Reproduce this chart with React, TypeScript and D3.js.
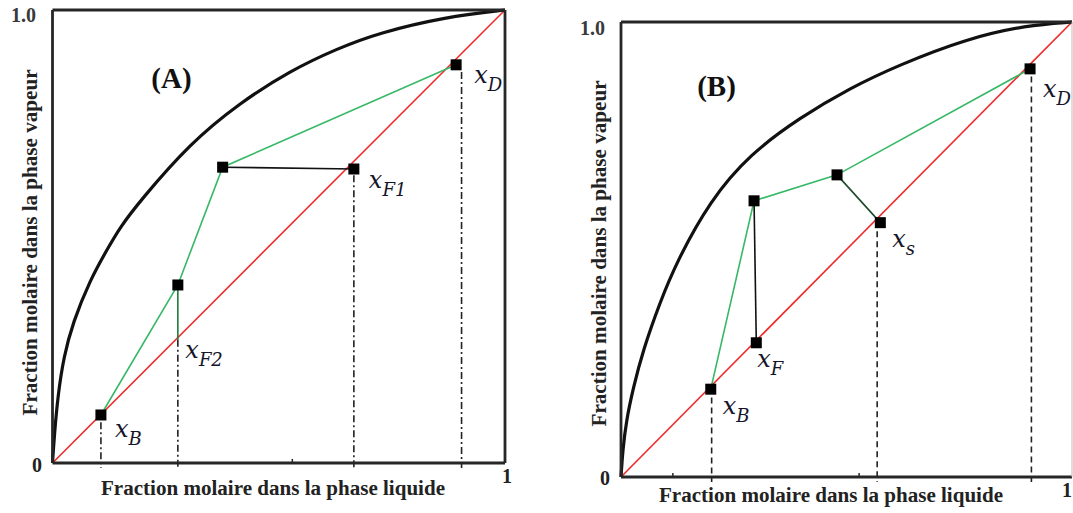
import React from "react";
import * as d3 from "d3";

type P = [number, number];

// equilibrium curves (x liquid, y vapour)
const equilibriumA: P[] = [
  [0, 0], [0.004, 0.06], [0.012, 0.15], [0.025, 0.235], [0.045, 0.31], [0.083, 0.404],
  [0.12, 0.47], [0.149, 0.52], [0.193, 0.578], [0.304, 0.706], [0.414, 0.795],
  [0.525, 0.866], [0.63, 0.915], [0.719, 0.949], [0.87, 0.985], [1, 1],
];
const equilibriumB: P[] = [
  [0, 0], [0.004, 0.06], [0.012, 0.125], [0.027, 0.195], [0.049, 0.279],
  [0.086, 0.383], [0.124, 0.474], [0.197, 0.607], [0.286, 0.71], [0.397, 0.79],
  [0.508, 0.855], [0.615, 0.905], [0.765, 0.963], [0.9, 0.993], [1, 1],
];

// panel A : two feeds
const operatingA: P[] = [[0.107, 0.106], [0.277, 0.393], [0.376, 0.653], [0.892, 0.879]];
const feedLineA2: P[] = [[0.277, 0.393], [0.277, 0.272]];
const feedLineA1: P[] = [[0.376, 0.653], [0.666, 0.649]];
const markersA: P[] = [[0.107, 0.106], [0.277, 0.393], [0.376, 0.653], [0.666, 0.649], [0.892, 0.879]];
const dropsA: P[] = [[0.107, 0.09], [0.277, 0.272], [0.666, 0.635], [0.904, 0.863]];
const labelsA = ["B", "F2", "F1", "D"];
const labelPointsA: P[] = [[0.107, 0.106], [0.277, 0.272], [0.666, 0.649], [0.892, 0.879]];
const ticksA = [0.53];

// panel B : feed + side stream
const operatingB: P[] = [[0.199, 0.193], [0.295, 0.607], [0.479, 0.664], [0.907, 0.897]];
const feedLineB: P[] = [[0.295, 0.607], [0.3, 0.295]];
const sideLineB: P[] = [[0.479, 0.664], [0.575, 0.559]];
const markersB: P[] = [[0.199, 0.193], [0.3, 0.295], [0.295, 0.607], [0.479, 0.664], [0.575, 0.559], [0.907, 0.897]];
const dropsB: P[] = [[0.201, 0.175], [0.568, 0.54], [0.91, 0.88]];
const labelsB = ["B", "F", "s", "D"];
const labelPointsB: P[] = [[0.199, 0.193], [0.3, 0.295], [0.575, 0.559], [0.907, 0.897]];
const ticksB = [0.115, 0.528];

const xTitle = "Fraction molaire dans la phase liquide";
const yTitle = "Fraction molaire dans la phase vapeur";

const serif = "'Liberation Serif', 'Times New Roman', serif";
const mathFont = "'DejaVu Serif', serif";

interface PanelProps {
  box: { l: number; r: number; t: number; b: number };
  name: string;
  nameAt: P;
  curve: P[];
  green: P[];
  darkLine: P[];
  darkColor: string;
  blackLine: P[];
  markers: P[];
  drops: P[];
  dash: string;
  labels: string[];
  labelPoints: P[];
  labelOffsets: P[];
  ticks: number[];
  thinRight: boolean;
  tickText: { one: P; zero: P; unit: P };
  xTitleAt: P;
  yTitleAt: P;
}

function Panel(p: PanelProps) {
  const x = d3.scaleLinear().domain([0, 1]).range([p.box.l, p.box.r]);
  const y = d3.scaleLinear().domain([0, 1]).range([p.box.b, p.box.t]);
  const line = d3.line<P>().x((d) => x(d[0])).y((d) => y(d[1]));
  const smooth = d3.line<P>().x((d) => x(d[0])).y((d) => y(d[1])).curve(d3.curveBasis);
  const frame = "#262626";
  const s = 11;

  return (
    <g>
      {/* operating lines */}
      <path d={line([[0, 0], [1, 1]]) || ""} stroke="#ee2b2b" strokeWidth={1.6} fill="none" />
      <path d={line(p.green) || ""} stroke="#36b866" strokeWidth={1.6} fill="none" />
      <path d={line(p.darkLine) || ""} stroke={p.darkColor} strokeWidth={1.6} fill="none" />
      <path d={line(p.blackLine) || ""} stroke="#111" strokeWidth={1.6} fill="none" />
      {p.drops.map((d, i) => (
        <line key={i} x1={x(d[0])} x2={x(d[0])} y1={y(d[1])} y2={y(0) + 5}
          stroke="#222" strokeWidth={1.6} strokeDasharray={p.dash} />
      ))}
      {/* equilibrium curve */}
      <path d={smooth(p.curve) || ""} stroke="#111" strokeWidth={3.2} fill="none" />
      {/* frame */}
      <line x1={p.box.l} x2={p.box.l} y1={p.box.t} y2={p.box.b} stroke={frame} strokeWidth={2.8} />
      <line x1={p.box.l} x2={p.box.r} y1={p.box.t} y2={p.box.t} stroke={frame} strokeWidth={2.8} />
      <line x1={p.box.l} x2={p.box.r} y1={p.box.b} y2={p.box.b} stroke={frame} strokeWidth={2.8} />
      <line x1={p.box.r} x2={p.box.r} y1={p.box.t} y2={p.box.b}
        stroke={p.thinRight ? "#bbb" : frame} strokeWidth={p.thinRight ? 1 : 2.8} />
      {p.ticks.map((t, i) => (
        <line key={i} x1={x(t)} x2={x(t)} y1={y(0)} y2={y(0) - 4} stroke={frame} strokeWidth={1.5} />
      ))}
      {p.markers.map((m, i) => (
        <rect key={i} x={x(m[0]) - s / 2} y={y(m[1]) - s / 2} width={s} height={s} fill="#000" />
      ))}
      {p.labels.map((lab, i) => {
        const pt = p.labelPoints[i];
        const off = p.labelOffsets[i];
        return (
          <text key={i} x={x(pt[0]) + off[0]} y={y(pt[1]) + off[1]} fontFamily={mathFont}
            fontStyle="italic" fill="#15152a">
            <tspan fontSize={24}>x</tspan>
            <tspan fontSize={18} dy={8}>{lab}</tspan>
          </text>
        );
      })}
      <text x={p.nameAt[0]} y={p.nameAt[1]} textAnchor="middle" fontFamily={serif}
        fontWeight="bold" fontSize={29} fill="#111">{p.name}</text>
      {/* tick labels */}
      <text x={p.tickText.one[0]} y={p.tickText.one[1]} textAnchor="end" fontFamily={serif}
        fontWeight="bold" fontSize={20} fill="#3a3a3a">1.0</text>
      <text x={p.tickText.zero[0]} y={p.tickText.zero[1]} textAnchor="end" fontFamily={serif}
        fontWeight="bold" fontSize={20} fill="#222">0</text>
      <text x={p.tickText.unit[0]} y={p.tickText.unit[1]} textAnchor="end" fontFamily={serif}
        fontWeight="bold" fontSize={20} fill="#222">1</text>
      {/* axis titles */}
      <text x={p.xTitleAt[0]} y={p.xTitleAt[1]} textAnchor="middle" fontFamily={serif}
        fontWeight="bold" fontSize={20} fill="#222" textLength={344} lengthAdjust="spacingAndGlyphs">
        {xTitle}
      </text>
      <text transform={`translate(${p.yTitleAt[0]},${p.yTitleAt[1]}) rotate(-90)`} textAnchor="middle"
        fontFamily={serif} fontWeight="bold" fontSize={20} fill="#222" textLength={346}
        lengthAdjust="spacingAndGlyphs">
        {yTitle}
      </text>
    </g>
  );
}

export default function App() {
  return (
    <div style={{ position: "absolute", left: 0, top: 0 }}>
      <svg width={1073} height={513} style={{ display: "block", background: "#fff" }}>
        <Panel
          box={{ l: 52.5, r: 505, t: 10, b: 463 }}
          name="(A)" nameAt={[171.5, 88]}
          curve={equilibriumA} green={operatingA}
          darkLine={feedLineA2} darkColor="#1f7a3a" blackLine={feedLineA1}
          markers={markersA} drops={dropsA} dash="7,3,2,3"
          labels={labelsA} labelPoints={labelPointsA}
          labelOffsets={[[14, 22], [7.5, 18], [15, 19], [18, 18]]}
          ticks={ticksA} thinRight={false}
          tickText={{ one: [36, 22], zero: [42, 472], unit: [512, 483] }}
          xTitleAt={[273, 495]} yTitleAt={[37, 242.5]}
        />
        <Panel
          box={{ l: 621, r: 1072, t: 22, b: 477 }}
          name="(B)" nameAt={[716.5, 96]}
          curve={equilibriumB} green={operatingB}
          darkLine={sideLineB} darkColor="#1d4a2c" blackLine={feedLineB}
          markers={markersB} drops={dropsB} dash="6,4"
          labels={labelsB} labelPoints={labelPointsB}
          labelOffsets={[[12, 25], [1, 24], [12, 24], [13, 28]]}
          ticks={ticksB} thinRight={true}
          tickText={{ one: [605, 35], zero: [610, 485], unit: [1072, 497] }}
          xTitleAt={[831, 502]} yTitleAt={[606, 253.5]}
        />
      </svg>
    </div>
  );
}
